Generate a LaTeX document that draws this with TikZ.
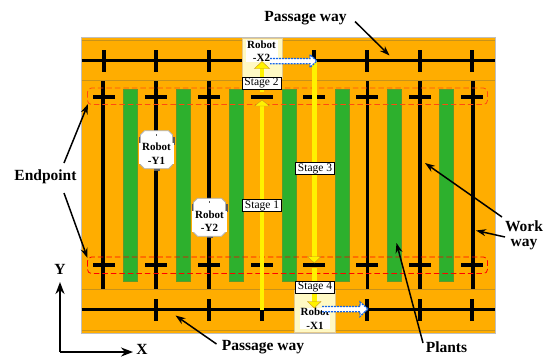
\documentclass[tikz,border=0pt]{standalone}
\usepackage{fontspec}
\setmainfont{Liberation Serif}
\usetikzlibrary{arrows.meta}
\definecolor{orangebg}{HTML}{FFAD00}
\definecolor{orangeln}{HTML}{C8921A}
\definecolor{plant}{HTML}{2DB02D}
\definecolor{plantln}{HTML}{5E9A2A}
\definecolor{paley}{HTML}{FFF9C4}
\definecolor{bluearr}{HTML}{1565E8}
\definecolor{redor}{HTML}{FF4A10}
\tikzset{
  x=1pt,y=-1pt,
  lbl/.style={font=\bfseries\fontsize{15.5}{16}\selectfont,inner sep=0pt,text=black},
  stagebox/.style={draw=black,line width=.8pt,fill=white,font=\fontsize{11.5}{12}\selectfont,minimum width=39pt,minimum height=12pt,inner sep=0pt},
  robtxt/.style={fill=white,font=\bfseries\fontsize{11}{13.5}\selectfont,align=center,inner sep=0pt,text width=34pt},
  workl/.style={black,line width=3.4pt},
  passl/.style={black,line width=2.9pt},
  tickv/.style={black,line width=4pt},
  tickh/.style={black,line width=3.4pt},
  greenb/.style={fill=plant,draw=plantln,line width=.7pt},
  endz/.style={line width=.8pt,dash pattern=on 5.5pt off 3pt,rounded corners=4pt},
  yarrow/.style={yellow,line width=4.4pt},
  yhead/.style={fill=yellow,draw=orangeln,line width=.4pt},
  callout/.style={-{Stealth[length=10pt,width=7pt]},black,line width=1.5pt},
  axisl/.style={-{Stealth[length=12pt,width=9pt]},black,line width=1.9pt},
  bluea/.style={fill=white,draw=bluearr,line width=1.3pt,dash pattern=on 2pt off 1pt},
}
\begin{document}
\begin{tikzpicture}
\useasboundingbox (0,0) rectangle (551,357);
% ground
\fill[orangebg,draw=lightgray,line width=.8pt] (81,37) rectangle (495,333);
\foreach \y in {40.5,80.5,289.5,330}{\draw[orangeln,line width=.9pt] (81.5,\y) -- (494.5,\y);}
% plants
\foreach \x in {123,176,229,282,335,387,439}{\draw[greenb] (\x,89) rectangle (\x+14,281);}
% work ways
\foreach \x in {103,156,209,367.5,420,473}{\draw[workl] (\x,81) -- (\x,289);}
% passage ways
\draw[passl] (81.5,60.5) -- (494.5,60.5);
\draw[passl] (81.5,309.5) -- (494.5,309.5);
\foreach \x in {104,156,209,314,367,420,472}{\draw[tickv] (\x,50) -- (\x,72);}
\foreach \x in {156,209,262,367,420,472}{\draw[tickv] (\x,299) -- (\x,321);}
% endpoint zones
\draw[endz,redor] (87.5,88) rectangle (487.5,104.5);
\draw[endz,red] (87.5,257) rectangle (487.5,273.5);
\foreach \x in {104,156,209,262,314,367,420,472}{
  \draw[tickh] (\x-11,97) -- (\x+11,97);
  \draw[tickh] (\x-11,265) -- (\x+11,265);
}
% robots X (panels)
\fill[paley,draw=orangeln!50,line width=.8pt] (242,38) rectangle (282.5,78);
\fill[paley,draw=orangeln!50,line width=.8pt] (294.5,290) rectangle (335,332);
% yellow stage paths
\coordinate (s1a) at (262,310); \coordinate (s1b) at (262,105);
\coordinate (s2a) at (262,92);  \coordinate (s2b) at (262,68);
\coordinate (s3a) at (314.3,61);  \coordinate (s3b) at (314.3,257);
\coordinate (s4a) at (314.3,268); \coordinate (s4b) at (314.3,302);
\draw[yarrow] (s1a) -- (s1b);
\draw[yarrow] (s3a) -- (s3b);
\node[robtxt,text width=32pt] (rx2) at (261.5,51) {Robot\\-X2};
\node[robtxt,text width=30pt] (rx1) at (315,318.5) {Robot\\-X1};
\draw[yarrow] (s2a) -- (s2b);
\draw[yarrow] (s4a) -- (s4b);
\draw[yhead] (262,61.5) -- (269.5,68.5) -- (254.5,68.5) -- cycle;
\draw[yhead] (262,100) -- (269.5,106) -- (254.5,106) -- cycle;
\draw[yhead] (314.3,263) -- (321,256.5) -- (307.5,256.5) -- cycle;
\draw[yhead] (314.3,308) -- (321,301.5) -- (307.5,301.5) -- cycle;
% blue moves
\draw[bluea] (270,58.5) -- (310,58.5) -- (310,54.5) -- (316.8,61) -- (310,67.5) -- (310,63.8) -- (270,63.8);
\draw[bluea] (322,306.5) -- (360,306.5) -- (360,302) -- (368,309) -- (360,316.5) -- (360,311.8) -- (322,311.8);
% stage labels
\node[stagebox] (st1) at (262,205.5) {Stage 1};
\node[stagebox] (st2) at (261.5,83) {Stage 2};
\node[stagebox] (st3) at (315,168.5) {Stage 3};
\node[stagebox] (st4) at (315,287.3) {Stage 4};
% robots Y
\foreach \n/\cx/\cy/\lab in {ry1/156.5/149.7/Y1, ry2/209.5/217.3/Y2}{
  \begin{scope}[shift={(\cx,\cy)}]
    \fill[gray!70!black] (-18,-13) rectangle (-15,-5);
    \fill[gray!70!black] (15,-13) rectangle (18,-5);
    \fill[gray!70!black] (-3,16) rectangle (3,21);
    \draw[fill=white,draw=gray!60,line width=.8pt]
      (-12,-19) -- (12,-19) -- (16,-15) -- (16,15) -- (12,19) -- (-12,19) -- (-16,15) -- (-16,-15) -- cycle;
    \fill[gray!70!black] (-.4,-16) rectangle (.4,-14);
    \node[robtxt,text width=35pt] (\n) at (0,4) {Robot\\-\lab};
  \end{scope}
}
% labels
\node[lbl] (pw1) at (305.5,18) {Passage way};
\node[lbl] (pw2) at (263,347) {Passage way};
\node[lbl] (pl) at (446.5,347) {Plants};
\node[lbl] (ep) at (45.5,177) {Endpoint};
\node[lbl] (wk) at (524,226) {Work};
\node[lbl] (wk2) at (524,245) {way};
\node[lbl] (ly) at (60,269) {Y};
\node[lbl] (lx) at (142,349.5) {X};
% callouts
\coordinate (c1) at (355,21.5); \coordinate (t1) at (389.5,55.5);
\coordinate (c2) at (216.5,344); \coordinate (t2) at (175.5,315.5);
\coordinate (c3) at (64,163); \coordinate (t3) at (88,104);
\coordinate (c4) at (64,193); \coordinate (t4) at (87.5,258);
\coordinate (c5) at (423,343); \coordinate (t5) at (396.5,243);
\coordinate (c6) at (502,217); \coordinate (t6) at (425,163);
\coordinate (c7) at (505,237); \coordinate (t7) at (476,230.5);
\foreach \a/\b in {c1/t1,c2/t2,c3/t3,c4/t4,c5/t5,c6/t6,c7/t7}{\draw[callout] (\a) -- (\b);}
% axes
\coordinate (o) at (60,352); \coordinate (ay) at (60,282); \coordinate (ax) at (133,352);
\draw[axisl] (o) -- (ay);
\draw[axisl] (o) -- (ax);
\end{tikzpicture}
\end{document}
